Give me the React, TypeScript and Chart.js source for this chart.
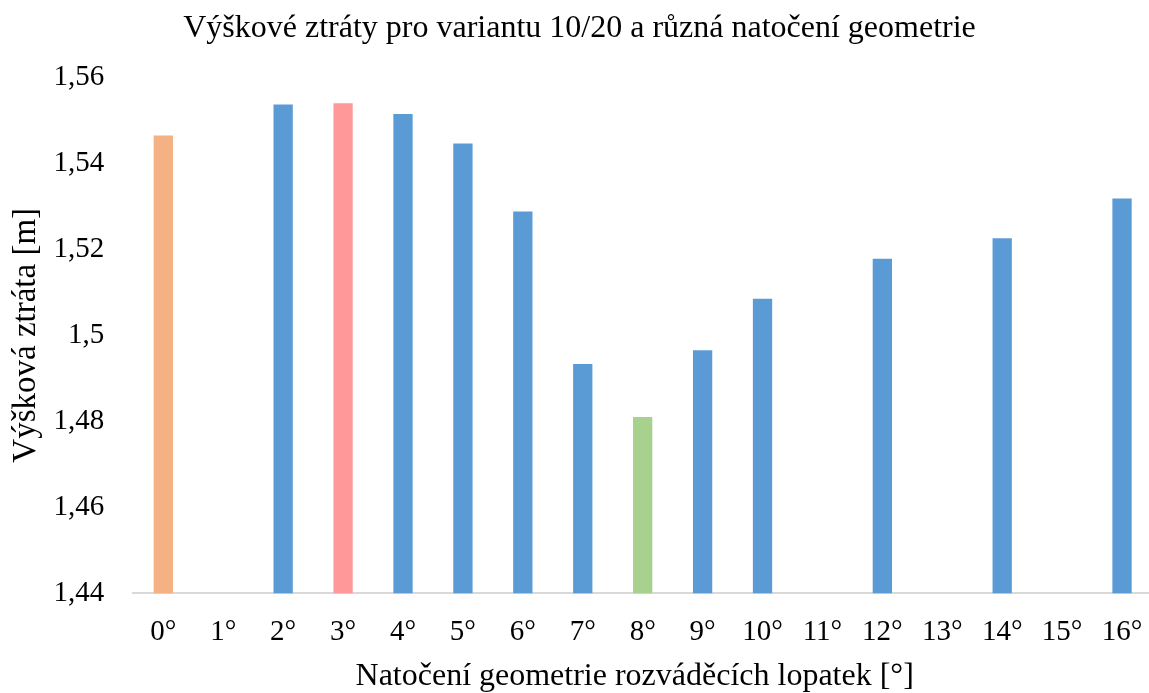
import React, { useEffect, useRef } from "react";
import { Chart, registerables } from "chart.js";

Chart.register(...registerables);

const categories: string[] = ["0°", "1°", "2°", "3°", "4°", "5°", "6°", "7°", "8°", "9°", "10°", "11°", "12°", "13°", "14°", "15°", "16°"];
const losses: (number | null)[] = [1.5465, null, 1.5537, 1.554, 1.5515, 1.5446, 1.5288, 1.4933, 1.481, 1.4965, 1.5085, null, 1.5178, null, 1.5226, null, 1.5318];
const barColors: string[] = ["#F4B183", "#5B9BD5", "#5B9BD5", "#FF9999", "#5B9BD5", "#5B9BD5", "#5B9BD5", "#5B9BD5", "#A9D18E", "#5B9BD5", "#5B9BD5", "#5B9BD5", "#5B9BD5", "#5B9BD5", "#5B9BD5", "#5B9BD5", "#5B9BD5"];
const yMin = 1.44;
const yMax = 1.56;
const yStep = 0.02;
const chartTitle = "Výškové ztráty pro variantu 10/20 a různá natočení geometrie";
const xTitle = "Natočení geometrie rozváděcích lopatek [°]";
const yTitle = "Výšková ztráta [m]";

const FONT = "'Liberation Serif', 'Times New Roman', serif";

export default function App() {
  const ref = useRef<HTMLCanvasElement | null>(null);
  useEffect(() => {
    if (!ref.current) return;
    const chart = new Chart(ref.current, {
      type: "bar",
      data: {
        labels: categories,
        datasets: [
          {
            data: losses,
            backgroundColor: barColors,
            borderWidth: 0,
            categoryPercentage: 1,
            barPercentage: 0.322,
          },
        ],
      },
      options: {
        responsive: false,
        animation: false,
        layout: { autoPadding: false, padding: { left: 7, right: 0, top: 0, bottom: 0 } },
        plugins: {
          legend: { display: false },
          tooltip: { enabled: false },
          title: {
            display: true,
            text: chartTitle,
            color: "#000",
            font: { family: FONT, size: 32, weight: "normal" },
            padding: { top: 9, bottom: 30 },
          },
        },
        scales: {
          x: {
            grid: { display: true, drawOnChartArea: false, drawTicks: true, tickLength: 22, tickColor: "rgba(0,0,0,0)" },
            border: { display: true, color: "#D9D9D9", width: 2 },
            ticks: {
              color: "#000",
              font: { family: FONT, size: 29 },
              padding: 0,
              autoSkip: false,
              maxRotation: 0,
            },
            title: {
              display: true,
              text: xTitle + "\u00A0\u00A0",
              color: "#000",
              font: { family: FONT, size: 32, lineHeight: 1.0 },
              padding: { top: 11, bottom: 0 },
            },
          },
          y: {
            min: yMin,
            max: yMax,
            grid: { display: true, drawOnChartArea: false, drawTicks: true, tickLength: 29, tickColor: "rgba(0,0,0,0)" },
            border: { display: false },
            ticks: {
              stepSize: yStep,
              color: "#000",
              font: { family: FONT, size: 29 },
              padding: 0,
              callback: (v: any) => String(Number(Number(v).toFixed(2))).replace(".", ","),
            },
            title: {
              display: true,
              text: yTitle,
              color: "#000",
              font: { family: FONT, size: 33 },
              padding: { top: 0, bottom: 7 },
            },
          },
        },
      },
    });
    return () => chart.destroy();
  }, []);
  return (
    <div style={{ position: "absolute", left: 0, top: 0, width: 1149, height: 693, background: "#fff", overflow: "hidden" }}>
      <canvas ref={ref} width={1152} height={693} style={{ display: "block" }} />
    </div>
  );
}
